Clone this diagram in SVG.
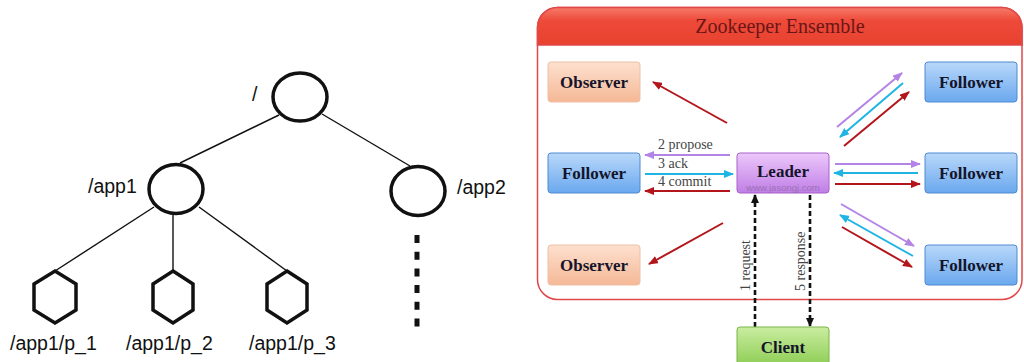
<svg xmlns="http://www.w3.org/2000/svg" width="1024" height="362" viewBox="0 0 1024 362">
<defs>
<linearGradient id="gHead" x1="0" y1="0" x2="0" y2="1"><stop offset="0" stop-color="#f57a68"/><stop offset="0.35" stop-color="#ee4a3a"/><stop offset="1" stop-color="#e8412f"/></linearGradient>
<linearGradient id="gObs" x1="0" y1="0" x2="0" y2="1"><stop offset="0" stop-color="#fde0cf"/><stop offset="1" stop-color="#f5b896"/></linearGradient>
<linearGradient id="gFol" x1="0" y1="0" x2="0" y2="1"><stop offset="0" stop-color="#b9d8fa"/><stop offset="1" stop-color="#6aa8ee"/></linearGradient>
<linearGradient id="gLead" x1="0" y1="0" x2="0" y2="1"><stop offset="0" stop-color="#ecc8fa"/><stop offset="1" stop-color="#c07ee6"/></linearGradient>
<linearGradient id="gCli" x1="0" y1="0" x2="0" y2="1"><stop offset="0" stop-color="#c9eda0"/><stop offset="1" stop-color="#8ccc52"/></linearGradient>
<marker id="mRed" markerWidth="10" markerHeight="8" refX="9" refY="4" orient="auto" markerUnits="userSpaceOnUse"><path d="M0,0 L10,4 L0,8 z" fill="#b3151b"/></marker>
<marker id="mPur" markerWidth="10" markerHeight="8" refX="9" refY="4" orient="auto" markerUnits="userSpaceOnUse"><path d="M0,0 L10,4 L0,8 z" fill="#b483e6"/></marker>
<marker id="mCya" markerWidth="10" markerHeight="8" refX="9" refY="4" orient="auto" markerUnits="userSpaceOnUse"><path d="M0,0 L10,4 L0,8 z" fill="#1eb4e4"/></marker>
<marker id="mBlk" markerWidth="9" markerHeight="8" refX="8" refY="4" orient="auto" markerUnits="userSpaceOnUse"><path d="M0,0 L9,4 L0,8 z" fill="#111"/></marker>
</defs>
<style>
.tree{fill:none;stroke:#111;stroke-width:1.4}
.el{fill:#fff;stroke:#111;stroke-width:3.5}
.hex{fill:#fff;stroke:#111;stroke-width:3.5;stroke-linejoin:miter}
.tl{font-family:"Liberation Sans",Arial,sans-serif;font-size:19.5px;fill:#111}
.nt{font-family:"Liberation Serif","Times New Roman",serif;font-size:17px;font-weight:bold;fill:#14142a;text-anchor:middle}
.al{font-family:"Liberation Serif","Times New Roman",serif;font-size:14px;fill:#444}
.red{stroke:#b3151b;stroke-width:2;fill:none;marker-end:url(#mRed)}
.pur{stroke:#b483e6;stroke-width:2;fill:none;marker-end:url(#mPur)}
.cya{stroke:#1eb4e4;stroke-width:2;fill:none;marker-end:url(#mCya)}
.dsh{stroke:#111;stroke-width:2.6;fill:none;stroke-dasharray:5,3;marker-end:url(#mBlk)}
</style>
<rect width="1024" height="362" fill="#fff"/>

<!-- Left tree -->
<g id="tree-edges">
<line class="tree" x1="279" y1="115" x2="180" y2="163"/>
<line class="tree" x1="322" y1="114" x2="410" y2="166"/>
<line class="tree" x1="154" y1="207" x2="55" y2="271"/>
<line class="tree" x1="173" y1="214" x2="173" y2="271"/>
<line class="tree" x1="199" y1="207" x2="287" y2="271"/>
<line x1="417" y1="235" x2="417" y2="327" stroke="#111" stroke-width="5" stroke-dasharray="8,8.7"/>
</g>
<g id="node-root"><ellipse class="el" cx="300" cy="97" rx="27" ry="24"/><text class="tl" x="252" y="101">/</text></g>
<g id="node-app1"><ellipse class="el" cx="176" cy="189" rx="27" ry="24.5"/><text class="tl" x="88" y="193">/app1</text></g>
<g id="node-app2"><ellipse class="el" cx="418" cy="191" rx="27" ry="24.5"/><text class="tl" x="457" y="194">/app2</text></g>
<g id="node-p1"><polygon class="hex" points="55,271 76,284 76,310 55,323 34,310 34,284"/><text class="tl" x="10" y="350">/app1/p_1</text></g>
<g id="node-p2"><polygon class="hex" points="173,271 193,284 193,310 173,323 153,310 153,284"/><text class="tl" x="126" y="350">/app1/p_2</text></g>
<g id="node-p3"><polygon class="hex" points="287,271 307,284 307,310 287,323 267,310 267,284"/><text class="tl" x="249" y="350">/app1/p_3</text></g>

<!-- Right: Zookeeper Ensemble -->
<g id="ensemble">
<rect x="537.5" y="7.5" width="484.5" height="292" rx="20" ry="20" fill="#fff" stroke="#e0484a" stroke-width="1.5"/>
<path d="M537.5,45 L537.5,27.5 A20,20 0 0 1 557.5,7.5 L1002,7.5 A20,20 0 0 1 1022,27.5 L1022,45 Z" fill="url(#gHead)" stroke="#e0484a" stroke-width="1.5"/>
<text x="780" y="33" text-anchor="middle" font-family="'Liberation Serif','Times New Roman',serif" font-size="20px" fill="#6b1616">Zookeeper Ensemble</text>
</g>

<g id="connectors">
<line class="red" x1="727" y1="123" x2="653" y2="82"/>
<line class="red" x1="723" y1="223" x2="649" y2="264"/>
<line class="pur" x1="837" y1="127" x2="902" y2="73"/>
<line class="cya" x1="903" y1="83" x2="840" y2="137"/>
<line class="red" x1="844" y1="146" x2="909" y2="92"/>
<line class="pur" x1="841" y1="204" x2="914" y2="246"/>
<line class="cya" x1="913" y1="256" x2="840" y2="215"/>
<line class="red" x1="842" y1="227" x2="912" y2="267"/>
<line class="pur" x1="730" y1="155" x2="645" y2="155"/>
<line class="cya" x1="645" y1="174" x2="733" y2="174"/>
<line class="red" x1="730" y1="191" x2="645" y2="191"/>
<line class="pur" x1="835" y1="164" x2="920" y2="164"/>
<line class="cya" x1="918" y1="173" x2="834" y2="173"/>
<line class="red" x1="835" y1="184" x2="920" y2="184"/>
<text class="al" x="658" y="149">2 propose</text>
<text class="al" x="658" y="168">3 ack</text>
<text class="al" x="658" y="186">4 commit</text>
<line class="dsh" x1="755" y1="327" x2="755" y2="195"/>
<line class="dsh" x1="810" y1="195" x2="810" y2="326"/>
<text class="al" transform="translate(750,291) rotate(-90)">1 request</text>
<text class="al" transform="translate(805,291) rotate(-90)">5 response</text>
</g>

<g id="node-observer-top"><rect x="548" y="62" width="92" height="40" rx="3" fill="url(#gObs)" stroke="#eec0a6"/><text class="nt" x="594" y="88">Observer</text></g>
<g id="node-observer-bottom"><rect x="548" y="245" width="92" height="40" rx="3" fill="url(#gObs)" stroke="#eec0a6"/><text class="nt" x="594" y="271">Observer</text></g>
<g id="node-follower-left"><rect x="548" y="153" width="92" height="40" rx="3" fill="url(#gFol)" stroke="#4f8ad0"/><text class="nt" x="594" y="179">Follower</text></g>
<g id="node-follower-tr"><rect x="925" y="62" width="92" height="40" rx="3" fill="url(#gFol)" stroke="#4f8ad0"/><text class="nt" x="971" y="88">Follower</text></g>
<g id="node-follower-r"><rect x="925" y="153" width="92" height="40" rx="3" fill="url(#gFol)" stroke="#4f8ad0"/><text class="nt" x="971" y="179">Follower</text></g>
<g id="node-follower-br"><rect x="925" y="245" width="92" height="40" rx="3" fill="url(#gFol)" stroke="#4f8ad0"/><text class="nt" x="971" y="271">Follower</text></g>
<g id="node-leader"><rect x="737" y="153" width="92" height="40" rx="3" fill="url(#gLead)" stroke="#a860cc"/><text class="nt" x="783" y="177">Leader</text><text x="783" y="191" text-anchor="middle" font-family="'Liberation Sans',Arial,sans-serif" font-size="9.5px" fill="#8a6aa0" opacity="0.7">www.jasongj.com</text></g>
<g id="node-client"><rect x="737" y="327" width="92" height="40" rx="3" fill="url(#gCli)" stroke="#7ab548"/><text class="nt" x="783" y="353">Client</text></g>
</svg>
